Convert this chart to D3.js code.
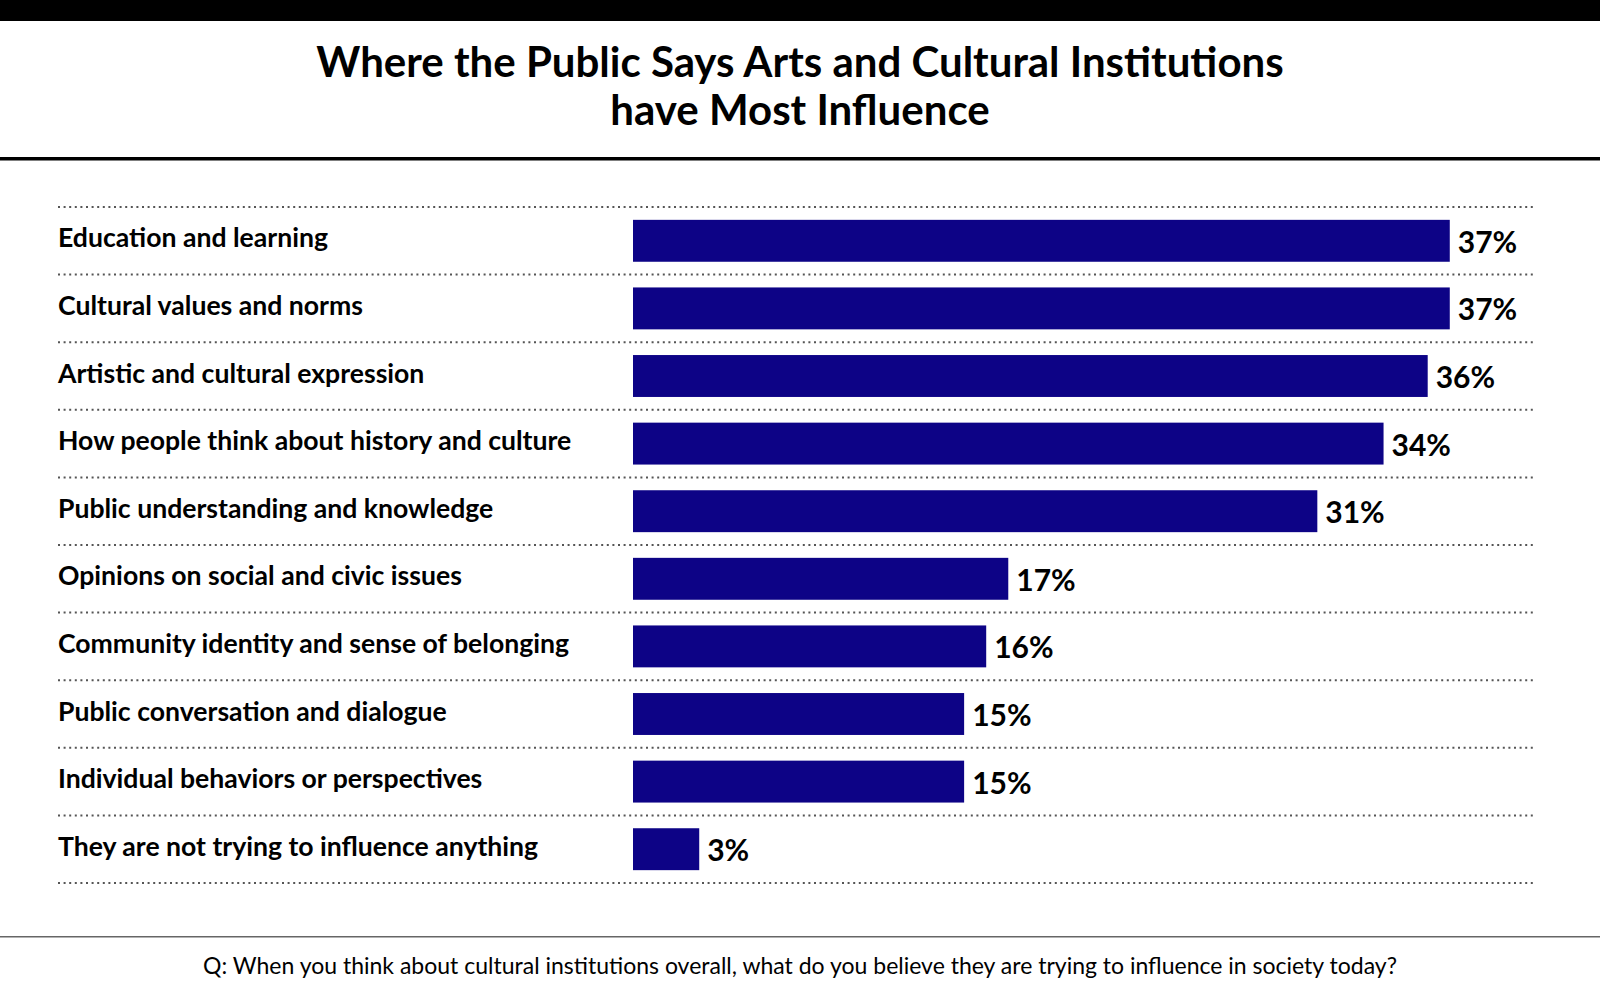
<!DOCTYPE html>
<html>
<head>
<meta charset="utf-8">
<script src="https://cdn.jsdelivr.net/npm/d3@7"></script>
<style>
  body { margin: 0; background: #fff; }
  text { font-family: Lato, "Noto Sans", sans-serif; fill: #000; }
</style>
</head>
<body>
<div id="vis"></div>
<script>
var categories = [
  "Education and learning",
  "Cultural values and norms",
  "Artistic and cultural expression",
  "How people think about history and culture",
  "Public understanding and knowledge",
  "Opinions on social and civic issues",
  "Community identity and sense of belonging",
  "Public conversation and dialogue",
  "Individual behaviors or perspectives",
  "They are not trying to influence anything"
];
var values = [37, 37, 36, 34, 31, 17, 16, 15, 15, 3];
var titleLines = ["Where the Public Says Arts and Cultural Institutions", "have Most Influence"];
var footnote = "Q: When you think about cultural institutions overall, what do you believe they are trying to influence in society today?";

var W = 1600, H = 994;
var svg = d3.select("#vis").append("svg").attr("width", W).attr("height", H);

// header
svg.append("rect").attr("x", 0).attr("y", 0).attr("width", W).attr("height", 21).attr("fill", "#000");
svg.selectAll("text.title").data(titleLines).enter().append("text")
    .attr("class", "title")
    .attr("x", 800).attr("y", function(d, i){ return 77 + i * 48; })
    .attr("text-anchor", "middle")
    .style("font-size", "42px").style("font-weight", 700)
    .text(function(d){ return d; });
svg.append("rect").attr("x", 0).attr("y", 157).attr("width", W).attr("height", 3.5).attr("fill", "#000");

// scales
var x = d3.scaleLinear().domain([0, 40]).range([633, 1516]);
var y = d3.scaleBand().domain(categories).range([207, 883]).paddingInner(0.38).paddingOuter(0.19);

// dotted row separators
var step = y.step();
var seps = d3.range(categories.length + 1).map(function(i){ return 207 + i * step; });
svg.selectAll("line.sep").data(seps).enter().append("line")
    .attr("class", "sep")
    .attr("x1", 58).attr("x2", 1534)
    .attr("y1", function(d){ return d; }).attr("y2", function(d){ return d; })
    .attr("stroke", "#555").attr("stroke-width", 2)
    .attr("stroke-dasharray", "2 3.6");

var rows = svg.selectAll("g.row").data(categories).enter().append("g").attr("class", "row");

rows.append("rect")
    .attr("x", x(0))
    .attr("y", function(d){ return y(d); })
    .attr("width", function(d, i){ return x(values[i]) - x(0); })
    .attr("height", y.bandwidth())
    .attr("fill", "#0d0386");

rows.append("text")
    .attr("x", 58)
    .attr("y", function(d){ return y(d) + y.bandwidth() / 2 + 6.5; })
    .style("font-size", "26.6px").style("font-weight", 700)
    .text(function(d){ return d; });

rows.append("text")
    .attr("x", function(d, i){ return x(values[i]) + 8; })
    .attr("y", function(d){ return y(d) + y.bandwidth() / 2 + 12; })
    .style("font-size", "30px").style("font-weight", 700)
    .text(function(d, i){ return values[i] + "%"; });

// footer
svg.append("rect").attr("x", 0).attr("y", 936).attr("width", W).attr("height", 1.5).attr("fill", "#666");
svg.append("text")
    .attr("x", 800).attr("y", 974)
    .attr("text-anchor", "middle")
    .style("font-size", "23px").style("font-weight", 400)
    .text(footnote);
</script>
</body>
</html>
